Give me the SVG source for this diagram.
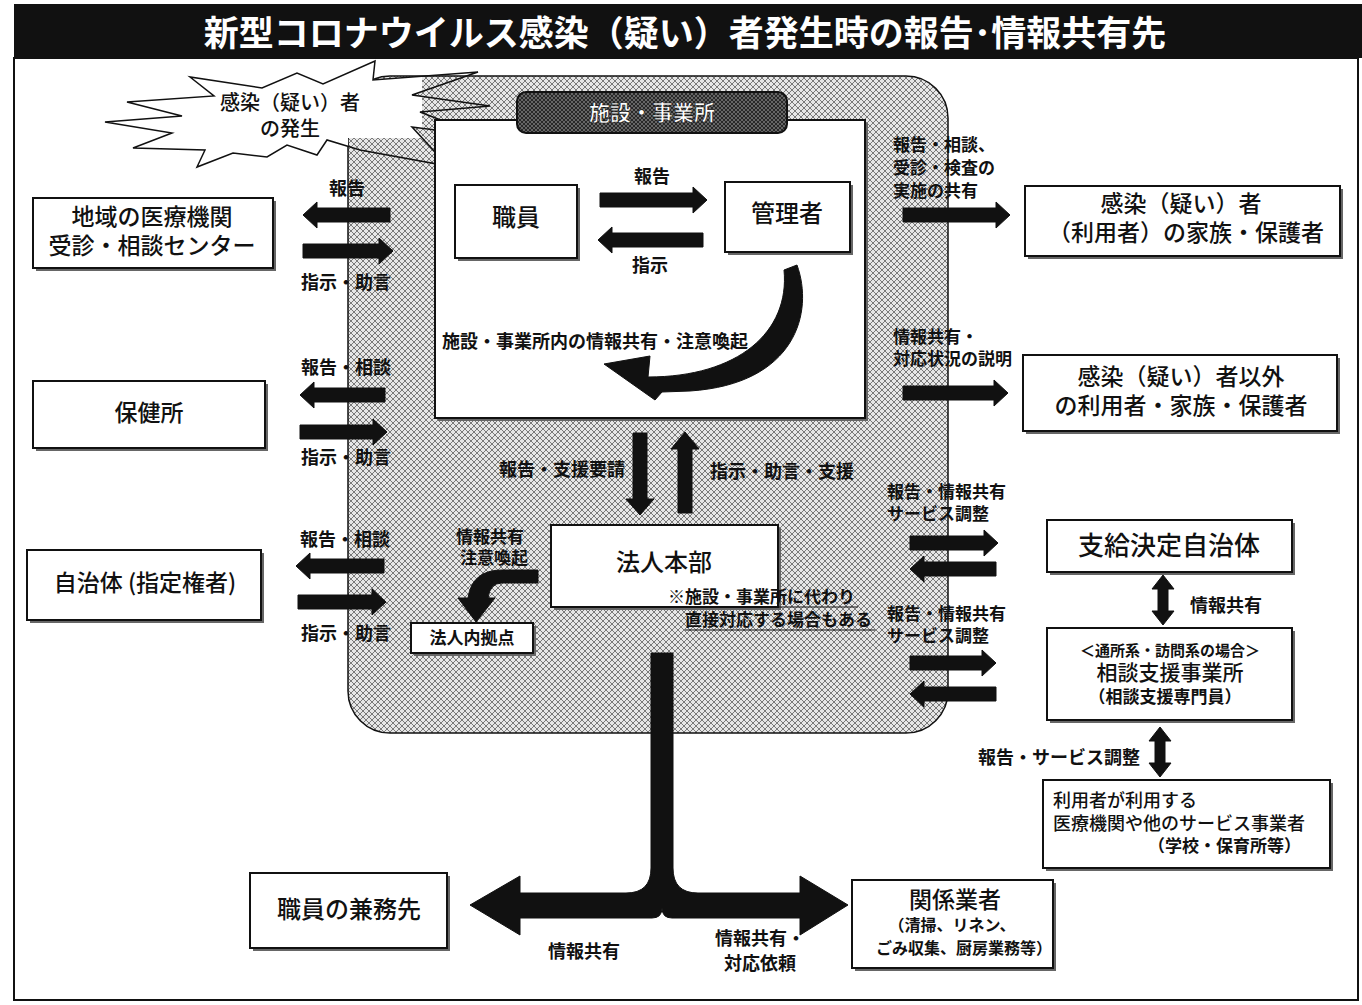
<svg xmlns="http://www.w3.org/2000/svg" width="1362" height="1005" viewBox="0 0 1362 1005">
<defs>
<pattern id="hatch" width="6" height="6" patternUnits="userSpaceOnUse">
<rect width="6" height="6" fill="#e6e6e6"/>
<path d="M0,0 L6,6 M6,0 L0,6" stroke="#4a4a4a" stroke-width="0.7"/>
</pattern>
<pattern id="hatchDark" width="4" height="4" patternUnits="userSpaceOnUse">
<rect width="4" height="4" fill="#666"/>
<path d="M0,0 L4,4 M4,0 L0,4" stroke="#222" stroke-width="0.9"/>
</pattern>
<clipPath id="burstClip">
<rect x="0" y="0" width="348" height="200"/>
<rect x="348" y="0" width="74" height="138"/>
</clipPath>
</defs>
<style>
.t{font-family:"Noto Sans CJK JP","Noto Sans CJK SC",sans-serif;fill:#111;}
.lb{font-size:18px;font-weight:700;}
.sm{font-size:17px;font-weight:700;}
.bx{font-size:23px;font-weight:500;}
.box{fill:#fff;stroke:#111;stroke-width:2;}
.sh{fill:#666;}
.blk{fill:#111;stroke:#111;stroke-width:1;}
.mid{text-anchor:middle;}
.end{text-anchor:end;}
</style>
<rect x="0" y="0" width="1362" height="1005" fill="#fff"/>
<g id="title">
<rect x="14" y="4" width="1348" height="54" fill="#111"/>
<text x="685" y="46" class="t mid" style="font-size:35px;font-weight:700;fill:#fff">新型コロナウイルス感染（疑い）者発生時の報告･情報共有先</text>
</g>
<rect x="14" y="58" width="1344" height="942" fill="none" stroke="#111" stroke-width="2"/>
<g id="facility-area">
<rect x="348" y="76" width="600" height="657" rx="42" fill="url(#hatch)" stroke="#111" stroke-width="1.5"/>
</g>
<g id="burst">
<polygon clip-path="url(#burstClip)" points="105,122 182,116 127,102 214,96 190,77 262,88 297,73 323,84 375,61 373,80 478,72 412,95 490,106 420,112 482,136 412,127 448,166 360,150 327,140 317,155 287,145 267,157 233,153 197,167 205,150 133,148 172,133" fill="#fff"/>
<polygon points="105,122 182,116 127,102 214,96 190,77 262,88 297,73 323,84 375,61 373,80 478,72 412,95 490,106 420,112 482,136 412,127 448,166 360,150 327,140 317,155 287,145 267,157 233,153 197,167 205,150 133,148 172,133" fill="none" stroke="#111" stroke-width="1.5"/>
<text x="290" y="110" class="t mid" style="font-size:20px;font-weight:500">感染（疑い）者</text>
<text x="290" y="136" class="t mid" style="font-size:20px;font-weight:500">の発生</text>
</g>
<g id="facility">
<rect x="438" y="123" width="430" height="298" class="sh"/>
<rect x="435" y="120" width="430" height="298" class="box"/>
<rect x="517" y="92" width="270" height="41" rx="9" fill="url(#hatchDark)" stroke="#111" stroke-width="2"/>
<text x="652" y="120" class="t mid" style="font-size:21px;font-weight:700;fill:#fff;stroke:#111;stroke-width:0.6">施設・事業所</text>
</g>
<g id="staff">
<rect x="458" y="188" width="122" height="73" class="sh"/>
<rect x="455" y="185" width="122" height="73" class="box"/>
<text x="516" y="226" class="t bx mid" style="font-size:24px">職員</text>
</g>
<g id="manager">
<rect x="728" y="185" width="125" height="70" class="sh"/>
<rect x="725" y="182" width="125" height="70" class="box"/>
<text x="787" y="222" class="t bx mid" style="font-size:24px">管理者</text>
</g>
<g id="medical">
<rect x="36" y="201" width="240" height="70" class="sh"/>
<rect x="33" y="198" width="240" height="70" class="box"/>
<text x="152" y="225" class="t bx mid">地域の医療機関</text>
<text x="152" y="254" class="t bx mid">受診・相談センター</text>
</g>
<g id="hokenjo">
<rect x="36" y="384" width="232" height="67" class="sh"/>
<rect x="33" y="381" width="232" height="67" class="box"/>
<text x="149" y="421" class="t bx mid">保健所</text>
</g>
<g id="jichitai">
<rect x="30" y="553" width="234" height="70" class="sh"/>
<rect x="27" y="550" width="234" height="70" class="box"/>
<text x="145" y="591" class="t bx mid">自治体 (指定権者)</text>
</g>
<g id="family">
<rect x="1028" y="189" width="315" height="70" class="sh"/>
<rect x="1025" y="186" width="315" height="70" class="box"/>
<text x="1181" y="212" class="t bx mid">感染（疑い）者</text>
<text x="1186" y="241" class="t bx mid">（利用者）の家族・保護者</text>
</g>
<g id="others">
<rect x="1026" y="358" width="314" height="76" class="sh"/>
<rect x="1023" y="355" width="314" height="76" class="box"/>
<text x="1181" y="385" class="t bx mid">感染（疑い）者以外</text>
<text x="1181" y="414" class="t bx mid">の利用者・家族・保護者</text>
</g>
<g id="hq">
<rect x="554" y="528" width="227" height="82" class="sh"/>
<rect x="551" y="525" width="227" height="82" class="box"/>
<text x="664" y="571" class="t bx mid" style="font-size:24px">法人本部</text>
</g>
<g id="branch">
<rect x="414" y="626" width="122" height="30" class="sh"/>
<rect x="411" y="623" width="122" height="30" class="box"/>
<text x="472" y="644" class="t sm mid">法人内拠点</text>
</g>
<g id="payment-municipality">
<rect x="1050" y="523" width="245" height="52" class="sh"/>
<rect x="1047" y="520" width="245" height="52" class="box"/>
<text x="1169" y="555" class="t mid" style="font-size:26px;font-weight:500">支給決定自治体</text>
</g>
<g id="consult">
<rect x="1050" y="631" width="245" height="92" class="sh"/>
<rect x="1047" y="628" width="245" height="92" class="box"/>
<text x="1170" y="656" class="t mid" style="font-size:15px;font-weight:700">＜通所系・訪問系の場合＞</text>
<text x="1170" y="680" class="t mid" style="font-size:21px;font-weight:500">相談支援事業所</text>
<text x="1165" y="703" class="t mid" style="font-size:17px;font-weight:700">（相談支援専門員）</text>
</g>
<g id="services">
<rect x="1046" y="783" width="287" height="88" class="sh"/>
<rect x="1043" y="780" width="287" height="88" class="box"/>
<text x="1053" y="807" class="t" style="font-size:18px;font-weight:500">利用者が利用する</text>
<text x="1053" y="830" class="t" style="font-size:18px;font-weight:500">医療機関や他のサービス事業者</text>
<text x="1148" y="852" class="t sm">（学校・保育所等）</text>
</g>
<g id="side-job">
<rect x="253" y="876" width="197" height="75" class="sh"/>
<rect x="250" y="873" width="197" height="75" class="box"/>
<text x="349" y="918" class="t bx mid" style="font-size:24px">職員の兼務先</text>
</g>
<g id="vendors">
<rect x="855" y="883" width="201" height="88" class="sh"/>
<rect x="852" y="880" width="201" height="88" class="box"/>
<text x="955" y="908" class="t bx mid">関係業者</text>
<text x="952" y="931" class="t mid" style="font-size:16px;font-weight:700">（清掃、リネン、</text>
<text x="964" y="954" class="t mid" style="font-size:16px;font-weight:700">ごみ収集、厨房業務等）</text>
</g>
<g id="connectors">
<path class="blk" d="M390,208 L317,208 L317,202 L303,215 L317,228 L317,222 L390,222 Z"/>
<path class="blk" d="M303,244 L379,244 L379,238 L393,251 L379,264 L379,258 L303,258 Z"/>
<path class="blk" d="M385,388 L314,388 L314,382 L300,395 L314,408 L314,402 L385,402 Z"/>
<path class="blk" d="M300,425 L373,425 L373,419 L387,432 L373,445 L373,439 L300,439 Z"/>
<path class="blk" d="M384,559 L310,559 L310,553 L296,566 L310,579 L310,573 L384,573 Z"/>
<path class="blk" d="M298,595 L372,595 L372,589 L386,602 L372,615 L372,609 L298,609 Z"/>
<path class="blk" d="M600,193 L693,193 L693,187 L707,200 L693,213 L693,207 L600,207 Z"/>
<path class="blk" d="M703,233 L612,233 L612,227 L598,240 L612,253 L612,247 L703,247 Z"/>
<path class="blk" d="M784,270 L797,265 C814,312 796,384 690,391 L662,392 L655,400 L604,364 L650,356 L648,377 C738,377 790,332 784,270 Z"/>
<path class="blk" d="M903,208 L996,208 L996,202 L1010,215 L996,228 L996,222 L903,222 Z"/>
<path class="blk" d="M903,386 L994,386 L994,380 L1008,393 L994,406 L994,400 L903,400 Z"/>
<path class="blk" d="M633,433 L647,433 L647,499 L654,499 L640,515 L626,499 L633,499 Z"/>
<path class="blk" d="M678,513 L692,513 L692,449 L699,449 L685,432 L671,449 L678,449 Z"/>
<path class="blk" d="M538,570 L538,583 L502,583 Q490,583 488,598 L495,598 L476,622 L458,598 L468,598 Q472,570 502,570 Z"/>
<path class="blk" d="M910,536 L984,536 L984,530 L998,543 L984,556 L984,550 L910,550 Z"/>
<path class="blk" d="M996,562 L924,562 L924,556 L910,569 L924,582 L924,576 L996,576 Z"/>
<path class="blk" d="M910,656 L982,656 L982,650 L996,663 L982,676 L982,670 L910,670 Z"/>
<path class="blk" d="M996,687 L924,687 L924,681 L910,694 L924,707 L924,701 L996,701 Z"/>
<path class="blk" d="M1163,575 L1174,589 L1168,589 L1168,611 L1174,611 L1163,625 L1152,611 L1158,611 L1158,589 L1152,589 Z"/>
<path class="blk" d="M1160,727 L1171,741 L1165,741 L1165,763 L1171,763 L1160,777 L1149,763 L1155,763 L1155,741 L1149,741 Z"/>
<path class="blk" d="M651,653 L673,653 L673,868 Q673,893 698,893 L800,893 L800,876 L848,905 L800,935 L800,918 L672,918 Q662,918 662,908 Q662,918 652,918 L520,918 L520,935 L470,905 L520,876 L520,893 L626,893 Q651,893 651,868 Z"/>
</g>
<g id="labels">
<text x="347" y="195" class="t lb mid">報告</text>
<text x="346" y="289" class="t lb mid">指示・助言</text>
<text x="346" y="374" class="t lb mid">報告・相談</text>
<text x="346" y="464" class="t lb mid">指示・助言</text>
<text x="345" y="546" class="t lb mid">報告・相談</text>
<text x="346" y="640" class="t lb mid">指示・助言</text>
<text x="652" y="183" class="t lb mid">報告</text>
<text x="650" y="272" class="t lb mid">指示</text>
<text x="442" y="348" class="t lb">施設・事業所内の情報共有・注意喚起</text>
<text x="625" y="476" class="t lb end">報告・支援要請</text>
<text x="710" y="478" class="t lb">指示・助言・支援</text>
<text x="490" y="543" class="t sm mid">情報共有</text>
<text x="494" y="564" class="t sm mid">注意喚起</text>
<text x="668" y="603" class="t sm">※施設・事業所に代わり</text>
<line x1="668" y1="607" x2="858" y2="607" stroke="#111" stroke-width="1.2"/>
<text x="685" y="626" class="t sm">直接対応する場合もある</text>
<line x1="685" y1="630" x2="875" y2="630" stroke="#111" stroke-width="1.2"/>
<text x="893" y="151" class="t sm">報告・相談、</text>
<text x="893" y="174" class="t sm">受診・検査の</text>
<text x="893" y="197" class="t sm">実施の共有</text>
<text x="893" y="343" class="t sm">情報共有・</text>
<text x="893" y="365" class="t sm">対応状況の説明</text>
<text x="887" y="498" class="t sm">報告・情報共有</text>
<text x="887" y="520" class="t sm">サービス調整</text>
<text x="887" y="620" class="t sm">報告・情報共有</text>
<text x="887" y="642" class="t sm">サービス調整</text>
<text x="1190" y="612" class="t lb">情報共有</text>
<text x="1140" y="764" class="t lb end">報告・サービス調整</text>
<text x="584" y="958" class="t lb mid">情報共有</text>
<text x="760" y="945" class="t lb mid">情報共有・</text>
<text x="760" y="970" class="t lb mid">対応依頼</text>
</g>
</svg>
